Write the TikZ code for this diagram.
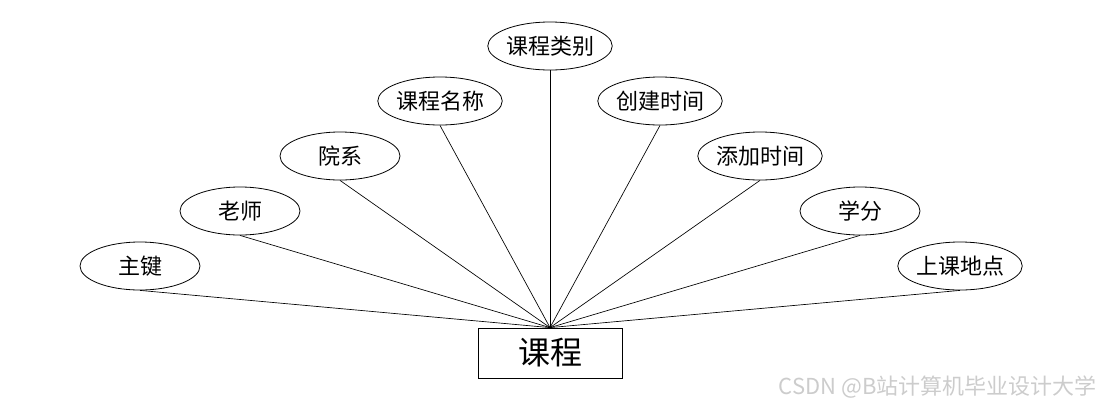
\documentclass[tikz,border=0pt]{standalone}
\usepackage{fontspec}
\setmainfont{Noto Sans CJK SC}
\usetikzlibrary{shapes.geometric}

\begin{document}
\begin{tikzpicture}[
  x=0.75pt, y=-0.75pt,
  attr/.style={draw, ellipse, line width=0.6pt, minimum width=90pt,
    minimum height=36pt, inner sep=0pt, font=\fontsize{16.5}{18}\selectfont},
  entity/.style={draw, rectangle, line width=0.6pt, minimum width=108pt,
    minimum height=37.5pt, inner sep=0pt, font=\fontsize{24}{28}\selectfont},
  link/.style={line width=0.5pt, draw=black},
]
\useasboundingbox (0,0) rectangle (1100,408);

\node[entity] (kecheng) at (550,353) {课程};

% attributes around the entity
\foreach \nm/\px/\py/\txt in {zhujian/140/266/主键, laoshi/240/211/老师,
    yuanxi/340/156/院系, kcmc/440/101/课程名称, kclb/550/46/课程类别,
    cjsj/660/101/创建时间, tjsj/760/156/添加时间, xuefen/860/211/学分,
    skdd/960/266/上课地点}{
  \node[attr] (\nm) at (\px,\py) {\txt};
  \draw[link] (\nm.south) -- (kecheng.north);
}

\node[anchor=east, text=black!20, font=\fontsize{16.5}{18}\selectfont,
  inner sep=0pt] (mark) at (1097,387) {CSDN @B站计算机毕业设计大学};
\end{tikzpicture}
\end{document}
